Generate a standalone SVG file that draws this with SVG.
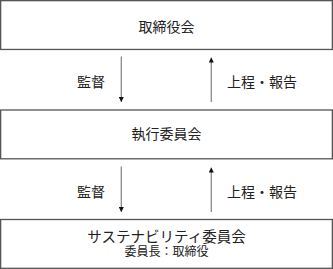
<svg xmlns="http://www.w3.org/2000/svg" width="333" height="269" viewBox="0 0 333 269">
<style>
.box{fill:#fff;stroke:#555;stroke-width:1.3}
.t{font-family:"Noto Sans CJK JP","Noto Sans CJK SC",sans-serif;fill:#222;font-size:14px}
.c{text-anchor:middle}
.ln{stroke:#8a8a8a;stroke-width:1.3;fill:none}
</style>
<defs>
<marker id="ah" viewBox="0 0 10 10" refX="10" refY="5" markerWidth="5" markerHeight="5" markerUnits="userSpaceOnUse" orient="auto">
<path d="M0,0 L10,5 L0,10 z" fill="#111"/>
</marker>
</defs>
<rect width="333" height="269" fill="#fff"/>
<g id="connectors">
<line class="ln" x1="121.3" y1="56.5" x2="121.3" y2="102" marker-end="url(#ah)"/>
<line class="ln" x1="211.3" y1="102" x2="211.3" y2="57.5" marker-end="url(#ah)"/>
<line class="ln" x1="121.3" y1="166.5" x2="121.3" y2="212" marker-end="url(#ah)"/>
<line class="ln" x1="211.3" y1="212" x2="211.3" y2="167.5" marker-end="url(#ah)"/>
<text class="t" x="105" y="87" text-anchor="end">監督</text>
<text class="t" x="227" y="87">上程・報告</text>
<text class="t" x="105" y="197" text-anchor="end">監督</text>
<text class="t" x="227" y="197">上程・報告</text>
</g>
<g id="board">
<rect class="box" x="0.65" y="0.65" width="331.7" height="48.8"/>
<text class="t c" x="166.5" y="31.5">取締役会</text>
</g>
<g id="executive">
<rect class="box" x="0.65" y="110" width="331.7" height="48.8"/>
<text class="t c" x="166.5" y="138.8">執行委員会</text>
</g>
<g id="sustainability">
<rect class="box" x="0.65" y="219.5" width="331.7" height="48.8"/>
<text class="t c" x="166.5" y="242" style="font-size:14.5px">サステナビリティ委員会</text>
<text class="t c" x="166.5" y="255.5" style="font-size:12px">委員長：取締役</text>
</g>
</svg>
